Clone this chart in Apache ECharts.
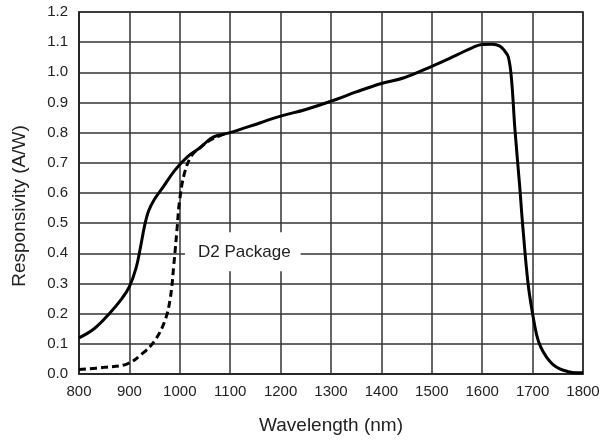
<!DOCTYPE html>
<html>
<head>
<meta charset="utf-8">
<script src="https://cdn.jsdelivr.net/npm/echarts@6/dist/echarts.min.js"></script>
<style>
html,body{margin:0;padding:0;background:#fff;}
#chart{width:603px;height:440px;}
</style>
</head>
<body>
<div id="chart"></div>
<script>
// Standard package responsivity (solid)
const standardWavelength = [800, 830, 860, 885, 900, 913, 922, 930, 938, 950, 965, 990, 1015, 1040, 1066, 1100, 1160, 1200, 1250, 1310, 1350, 1400, 1445, 1500, 1550, 1582, 1600, 1620, 1635, 1645, 1652, 1658, 1665, 1674, 1681, 1691, 1700, 1708, 1716, 1728, 1740, 1754, 1770, 1785, 1800];
const standardResponsivity = [0.12, 0.15, 0.20, 0.25, 0.29, 0.35, 0.42, 0.49, 0.54, 0.58, 0.615, 0.675, 0.72, 0.75, 0.785, 0.80, 0.833, 0.855, 0.877, 0.91, 0.935, 0.963, 0.982, 1.02, 1.058, 1.083, 1.092, 1.093, 1.087, 1.07, 1.05, 0.98, 0.81, 0.63, 0.48, 0.30, 0.20, 0.13, 0.09, 0.055, 0.032, 0.017, 0.008, 0.004, 0.004];
// D2 package responsivity (dashed)
const d2Wavelength = [800, 850, 895, 925, 950, 970, 981, 988, 994, 1000, 1010, 1024, 1040, 1060, 1080, 1095];
const d2Responsivity = [0.015, 0.022, 0.033, 0.067, 0.11, 0.175, 0.25, 0.36, 0.47, 0.58, 0.67, 0.725, 0.75, 0.775, 0.79, 0.80];
const d2Label = 'D2 Package';
const d2LabelAt = [1125, 0.405];

const xMin = 800, xMax = 1800, xStep = 100;
const yMin = 0, yMax = 1.2, yStep = 0.1;
const xTitle = 'Wavelength (nm)';
const yTitle = 'Responsivity (A/W)';

const zip = (a, b) => a.map((v, i) => [v, b[i]]);
const font = '"Liberation Sans", Arial, sans-serif';
const gridColor = '#333';

const chart = echarts.init(document.getElementById('chart'));
chart.setOption({
  animation: false,
  backgroundColor: '#fff',
  grid: { left: 79, right: 20, top: 12, bottom: 63, show: true, borderColor: '#222', borderWidth: 1.6, backgroundColor: 'transparent' },
  xAxis: {
    type: 'value', min: xMin, max: xMax, interval: xStep,
    name: xTitle, nameLocation: 'middle', nameGap: 42,
    nameTextStyle: { fontFamily: font, fontSize: 19, color: '#222' },
    axisLine: { show: true, lineStyle: { color: '#222', width: 1.6 } },
    axisTick: { show: false },
    axisLabel: { fontFamily: font, fontSize: 15, color: '#222', margin: 10, formatter: v => String(v) },
    splitLine: { show: true, lineStyle: { color: gridColor, width: 1.5 } }
  },
  yAxis: {
    type: 'value', min: yMin, max: yMax, interval: yStep,
    name: yTitle, nameLocation: 'middle', nameGap: 50, nameRotate: 90,
    nameTextStyle: { fontFamily: font, fontSize: 19, color: '#222', padding: [0, 26, 0, 0] },
    axisLine: { show: true, lineStyle: { color: '#222', width: 1.6 } },
    axisTick: { show: false },
    axisLabel: { fontFamily: font, fontSize: 15, color: '#222', margin: 11, formatter: v => v.toFixed(1) },
    splitLine: { show: true, lineStyle: { color: gridColor, width: 1.5 } }
  },
  series: [
    {
      type: 'line', data: zip(standardWavelength, standardResponsivity),
      showSymbol: false, smooth: 0.4,
      lineStyle: { color: '#000', width: 3 }, z: 3
    },
    {
      type: 'line', data: zip(d2Wavelength, d2Responsivity),
      showSymbol: false, smooth: 0.4,
      lineStyle: { color: '#000', width: 3, type: [7, 4] }, z: 2,
      markPoint: {
        symbol: 'rect', symbolSize: 0, silent: true,
        data: [{ coord: d2LabelAt }],
        label: {
          show: true, position: 'inside', formatter: d2Label,
          fontFamily: font, fontSize: 17, color: '#222',
          backgroundColor: '#fff', padding: [11, 10, 11, 13]
        }
      }
    }
  ]
});
</script>
</body>
</html>
